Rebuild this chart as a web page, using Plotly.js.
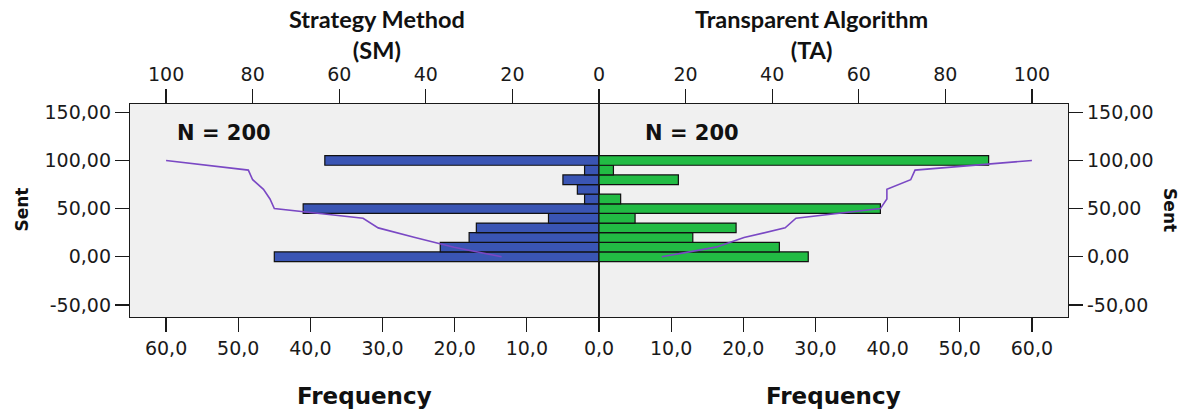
<!DOCTYPE html>
<html>
<head>
<meta charset="utf-8">
<script src="https://cdn.plot.ly/plotly-3.0.1.min.js"></script>
<style>html,body{margin:0;padding:0;background:#fff;}#chart{width:1187px;height:411px;}</style>
</head>
<body>
<div id="chart"></div>
<script>
// Sent value bins (y axis)
const sentBins = [0, 10, 20, 30, 40, 50, 60, 70, 80, 90, 100];
// Frequencies: Strategy Method (left) and Transparent Algorithm (right)
const smFreq = [45, 22, 18, 17, 7, 41, 2, 3, 5, 2, 38];
const taFreq = [29, 25, 13, 19, 5, 39, 3, 0, 11, 2, 54];
// Cumulative percent lines (top axes)
const smCumPct = [22.5, 33.5, 42.5, 51, 54.5, 75, 76, 77.5, 80, 81, 100];
const taCumPct = [14.5, 27, 33.5, 43, 45.5, 65, 66.5, 66.5, 72, 73, 100];
// Tick values and labels
const freqTicksLeft = [0, 10, 20, 30, 40, 50, 60];
const freqTicksRight = [10, 20, 30, 40, 50, 60];
const pctTicksLeft = [0, 20, 40, 60, 80, 100];
const pctTicksRight = [20, 40, 60, 80, 100];
const sentTicks = [-50, 0, 50, 100, 150];
const sentTickText = ['-50,00', '0,00', '50,00', '100,00', '150,00'];
// Texts
const titleSM = 'Strategy Method<br>(SM)';
const titleTA = 'Transparent Algorithm<br>(TA)';
const nLabel = 'N = 200';
const freqTitle = 'Frequency';
const yTitle = 'Sent';

const blue = '#3a55b4';
const green = '#22bb44';
const purple = '#7a48c4';
const tickFont = {family: 'DejaVu Sans', size: 19, color: '#1a1a1a'};
const axisCommon = {
  showgrid: false, zeroline: false, showline: true, linecolor: '#1a1a1a', linewidth: 1.2,
  ticks: 'outside', ticklen: 14, tickwidth: 1.2, tickcolor: '#1a1a1a', tickfont: tickFont
};

const traces = [
  {type: 'bar', orientation: 'h', x: smFreq, y: sentBins, xaxis: 'x', yaxis: 'y',
   marker: {color: blue, line: {color: '#111', width: 1.2}}, hoverinfo: 'x+y'},
  {type: 'bar', orientation: 'h', x: taFreq, y: sentBins, xaxis: 'x2', yaxis: 'y2',
   marker: {color: green, line: {color: '#111', width: 1.2}}, hoverinfo: 'x+y'},
  {type: 'scatter', mode: 'lines', x: smCumPct, y: sentBins, xaxis: 'x3', yaxis: 'y',
   line: {color: purple, width: 1.6}},
  {type: 'scatter', mode: 'lines', x: taCumPct, y: sentBins, xaxis: 'x4', yaxis: 'y2',
   line: {color: purple, width: 1.6}}
];

const yRange = [-62.5, 158.6];
const fRange = 65;
const pRange = fRange * 100 / 60;

const layout = {
  width: 1187, height: 411,
  margin: {l: 130, r: 119, t: 104, b: 94},
  paper_bgcolor: '#ffffff', plot_bgcolor: '#f0f0f0',
  showlegend: false, bargap: 0, separators: ',.',
  xaxis: Object.assign({}, axisCommon, {domain: [0, 0.5], range: [fRange, 0], anchor: 'y',
    tickvals: freqTicksLeft, tickformat: '.1f', mirror: false}),
  xaxis2: Object.assign({}, axisCommon, {domain: [0.5, 1], range: [0, fRange], anchor: 'y2',
    tickvals: freqTicksRight, tickformat: '.1f', mirror: false}),
  xaxis3: Object.assign({}, axisCommon, {overlaying: 'x', side: 'top', range: [pRange, 0], anchor: 'y',
    tickvals: pctTicksLeft, tickformat: 'd'}),
  xaxis4: Object.assign({}, axisCommon, {overlaying: 'x2', side: 'top', range: [0, pRange], anchor: 'y2',
    tickvals: pctTicksRight, tickformat: 'd'}),
  yaxis: Object.assign({}, axisCommon, {domain: [0, 1], range: yRange, anchor: 'x', side: 'left',
    tickvals: sentTicks, ticktext: sentTickText, mirror: true}),
  yaxis2: Object.assign({}, axisCommon, {domain: [0, 1], range: yRange, anchor: 'x2', side: 'right',
    tickvals: sentTicks, ticktext: sentTickText, mirror: true}),
  annotations: [
    {text: nLabel, xref: 'paper', yref: 'paper', x: 0.048, y: 0.864, xanchor: 'left', yanchor: 'middle',
     showarrow: false, font: {family: 'DejaVu Sans', size: 21, color: '#111', weight: 'bold'}},
    {text: nLabel, xref: 'paper', yref: 'paper', x: 0.547, y: 0.864, xanchor: 'left', yanchor: 'middle',
     showarrow: false, font: {family: 'DejaVu Sans', size: 21, color: '#111', weight: 'bold'}},
    {text: titleSM, xref: 'paper', yref: 'paper', x: 0.2628, y: 1.325, xanchor: 'center', yanchor: 'middle',
     showarrow: false, font: {family: 'Lato', size: 23.5, color: '#111', weight: 'bold'}},
    {text: titleTA, xref: 'paper', yref: 'paper', x: 0.727, y: 1.325, xanchor: 'center', yanchor: 'middle',
     showarrow: false, font: {family: 'Lato', size: 23.5, color: '#111', weight: 'bold'}},
    {text: freqTitle, xref: 'paper', yref: 'paper', x: 0.2495, y: -0.371, xanchor: 'center', yanchor: 'middle',
     showarrow: false, font: {family: 'DejaVu Sans', size: 23, color: '#111', weight: 'bold'}},
    {text: freqTitle, xref: 'paper', yref: 'paper', x: 0.7495, y: -0.371, xanchor: 'center', yanchor: 'middle',
     showarrow: false, font: {family: 'DejaVu Sans', size: 23, color: '#111', weight: 'bold'}},
    {text: yTitle, xref: 'paper', yref: 'paper', x: -0.1146, y: 0.502, xanchor: 'center', yanchor: 'middle',
     textangle: -90, showarrow: false, font: {family: 'DejaVu Sans', size: 17, color: '#111', weight: 'bold'}},
    {text: yTitle, xref: 'paper', yref: 'paper', x: 1.1087, y: 0.502, xanchor: 'center', yanchor: 'middle',
     textangle: 90, showarrow: false, font: {family: 'DejaVu Sans', size: 17, color: '#111', weight: 'bold'}}
  ]
};

Plotly.newPlot('chart', traces, layout, {displayModeBar: false, staticPlot: true});
</script>
</body>
</html>
